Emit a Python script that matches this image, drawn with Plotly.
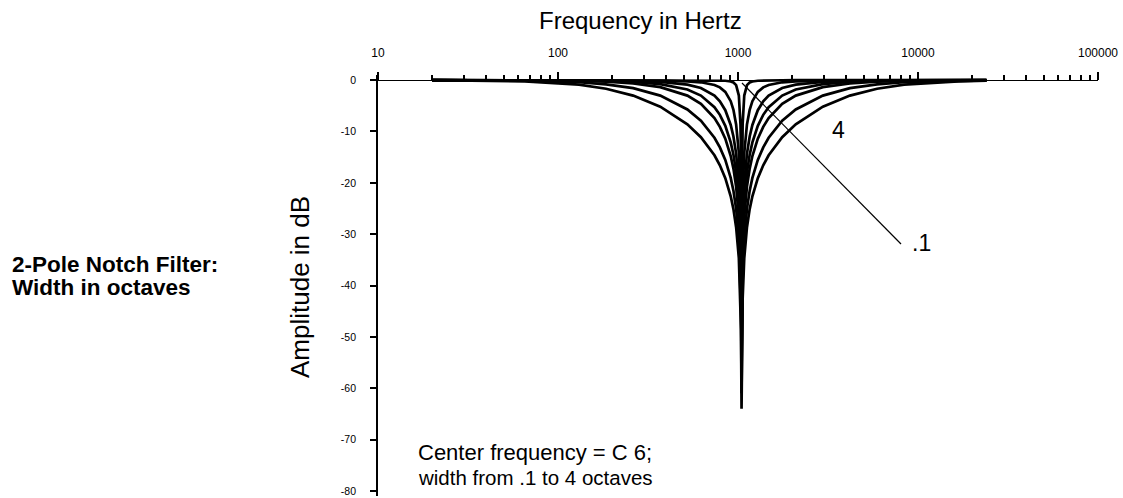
import plotly.graph_objects as go

# ---------------- data ----------------
freq_hz = [20, 32.7, 65.4, 130.8, 185.0, 261.6, 370.0, 523.3, 622.3, 740.0,
           793.1, 850.0, 911.0, 943.2, 976.4, 1010.9, 1032.1, 1039.3,
           1046.5,
           1053.8, 1061.1, 1083.4, 1121.6, 1161.2, 1202.1, 1288.4, 1380.9,
           1480.0, 1760.0, 2093.0, 2960.0, 4186.0, 5919.9, 8372.0, 16744.0, 24000.0]

width_labels = [".1", ".5", "1", "1.5", "2", "3", "4"]

db_w01 = [0, 0, 0, 0, 0, 0, 0, -0.01, -0.02, -0.04, -0.07, -0.12, -0.26, -0.46, -0.97, -3.0, -8.6, -14.2,
          -30.0,
          -14.2, -8.6, -3.0, -0.97, -0.46, -0.26, -0.12, -0.07, -0.04, -0.02, -0.01, 0, 0, 0, 0, 0, 0]
db_w05 = [0, 0, 0, -0.01, -0.02, -0.04, -0.09, -0.23, -0.42, -0.94, -1.41, -2.28, -4.10, -5.79, -8.64, -14.19, -22.0, -28.0,
          -44.0,
          -28.0, -22.0, -14.19, -8.64, -5.79, -4.10, -2.28, -1.41, -0.94, -0.42, -0.23, -0.09, -0.04, -0.02, -0.01, 0, 0]
db_w1 = [0, 0, -0.01, -0.04, -0.07, -0.15, -0.34, -0.87, -1.53, -3.01, -4.13, -5.85, -8.73, -10.98, -14.31, -20.21, -28.14, -34.15,
         -50.0,
         -34.15, -28.14, -20.21, -14.31, -10.98, -8.73, -5.85, -4.13, -3.01, -1.53, -0.87, -0.34, -0.15, -0.07, -0.04, -0.01, 0]
db_w15 = [0, -0.01, -0.02, -0.08, -0.17, -0.35, -0.77, -1.83, -3.01, -5.27, -6.76, -8.89, -12.12, -14.51, -17.95, -23.93, -31.87, -37.89,
          -54.0,
          -37.89, -31.87, -23.93, -17.95, -14.51, -12.12, -8.89, -6.76, -5.27, -3.01, -1.83, -0.77, -0.35, -0.17, -0.08, -0.02, -0.01]
db_w2 = [0, -0.01, -0.04, -0.16, -0.31, -0.65, -1.36, -3.01, -4.63, -7.40, -9.10, -11.41, -14.78, -17.23, -20.72, -26.71, -34.66, -40.68,
         -57.0,
         -40.68, -34.66, -26.71, -20.72, -17.23, -14.78, -11.41, -9.10, -7.40, -4.63, -3.01, -1.36, -0.65, -0.31, -0.16, -0.04, -0.02]
db_w3 = [-0.01, -0.03, -0.10, -0.41, -0.81, -1.57, -3.01, -5.71, -7.91, -11.22, -13.10, -15.55, -19.04, -21.53, -25.04, -31.06, -39.01, -45.03,
         -61.0,
         -45.03, -39.01, -31.06, -25.04, -21.53, -19.04, -15.55, -13.10, -11.22, -7.91, -5.71, -3.01, -1.57, -0.81, -0.41, -0.10, -0.05]
db_w4 = [-0.02, -0.06, -0.23, -0.89, -1.67, -3.01, -5.18, -8.60, -11.11, -14.64, -16.59, -19.09, -22.62, -25.12, -28.64, -34.67, -42.62, -48.64,
         -64.0,
         -48.64, -42.62, -34.67, -28.64, -25.12, -22.62, -19.09, -16.59, -14.64, -11.11, -8.60, -5.18, -3.01, -1.67, -0.89, -0.23, -0.12]

x_major_vals = [10, 100, 1000, 10000, 100000]
x_major_text = ["10", "100", "1000", "10000", "100000"]
x_minor_vals = [k * 10 ** n for n in range(1, 5) for k in range(2, 10)]
y_tick_vals = [0, -10, -20, -30, -40, -50, -60, -70, -80]
y_tick_text = ["0", "-10", "-20", "-30", "-40", "-50", "-60", "-70", "-80"]

# ---------------- figure ----------------
FONT = "Arial, Liberation Sans, Helvetica, sans-serif"
Y_RANGE = [-81, 1]
W, H = 1123, 498
ML, MR, MT, MB = 378, 25, 75, 2
PW, PH = W - ML - MR, H - MT - MB


def px(xp, yp):
    return (xp - ML) / PW, (H - MB - yp) / PH


fig = go.Figure()
for lab, vals in zip(width_labels, [db_w01, db_w05, db_w1, db_w15, db_w2, db_w3, db_w4]):
    fig.add_trace(go.Scatter(x=freq_hz, y=vals, mode="lines", name=lab,
                             line=dict(color="black", width=2.7), showlegend=False,
                             hoverinfo="skip"))

zero_pos = (0 - Y_RANGE[0]) / (Y_RANGE[1] - Y_RANGE[0])

common_x = dict(type="log", range=[1, 5], anchor="free", position=zero_pos, side="top",
                showgrid=False, zeroline=False, tickvals=x_major_vals, ticktext=x_major_text,
                tickcolor="black", tickwidth=1.8, ticklen=8)

fig.update_layout(
    width=W, height=H, autosize=False,
    margin=dict(l=ML, r=MR, t=MT, b=MB, pad=0),
    paper_bgcolor="white", plot_bgcolor="white",
    font=dict(family=FONT, color="black"),
    xaxis=dict(**common_x, ticks="outside", showline=True, linecolor="black", linewidth=1.3,
               tickfont=dict(size=12, family=FONT, color="black"), ticklabelstandoff=10,
               minor=dict(tickvals=x_minor_vals, ticks="outside", ticklen=5, tickwidth=1.8,
                          tickcolor="black", showgrid=False)),
    xaxis2=dict(**common_x, overlaying="x", ticks="inside", showline=False, showticklabels=False,
                minor=dict(tickvals=x_minor_vals, ticks="inside", ticklen=5, tickwidth=1.8,
                           tickcolor="black", showgrid=False)),
    yaxis=dict(range=Y_RANGE, anchor="x", side="left", showgrid=False, zeroline=False,
               showline=True, linecolor="black", linewidth=1.8,
               tickvals=y_tick_vals, ticktext=y_tick_text, ticks="outside", ticklen=6,
               tickwidth=1.8, tickcolor="black", ticklabelstandoff=12,
               tickfont=dict(size=10.5, family=FONT, color="black")),
    yaxis2=dict(range=Y_RANGE, anchor="x", overlaying="y", side="left", showgrid=False,
                zeroline=False, showline=False, tickvals=y_tick_vals, ticks="inside",
                ticklen=6, tickwidth=1.8, tickcolor="black", showticklabels=False),
)


def note(text, xp, yp, size, bold=False, xanchor="center", angle=0):
    x, y = px(xp, yp)
    fig.add_annotation(text=f"<b>{text}</b>" if bold else text, x=x, y=y, xref="paper", yref="paper",
                       xanchor=xanchor, yanchor="middle", showarrow=False, textangle=angle,
                       font=dict(family=FONT, size=size, color="black"))


note("Frequency in Hertz", 640, 20, 24)
note("Amplitude in dB", 300, 287, 26, angle=-90)
note("2-Pole Notch Filter:", 10, 264, 22.5, bold=True, xanchor="left")
note("Width in octaves", 10, 287, 22.5, bold=True, xanchor="left")
note("Center frequency = C 6;", 416, 452, 22, xanchor="left")
note("width from .1 to 4 octaves", 416, 477, 20.5, xanchor="left")
note("4", 838, 130, 23)
note(".1", 921, 243, 23)

x0, y0 = px(742, 83)
x1, y1 = px(901, 244)
fig.add_shape(type="line", xref="paper", yref="paper", x0=x0, y0=y0, x1=x1, y1=y1,
              line=dict(color="black", width=1.2))

fig.write_html("out.html", config={"displayModeBar": False},
               post_script="document.body.style.margin='0px';document.body.style.overflow='hidden';")
